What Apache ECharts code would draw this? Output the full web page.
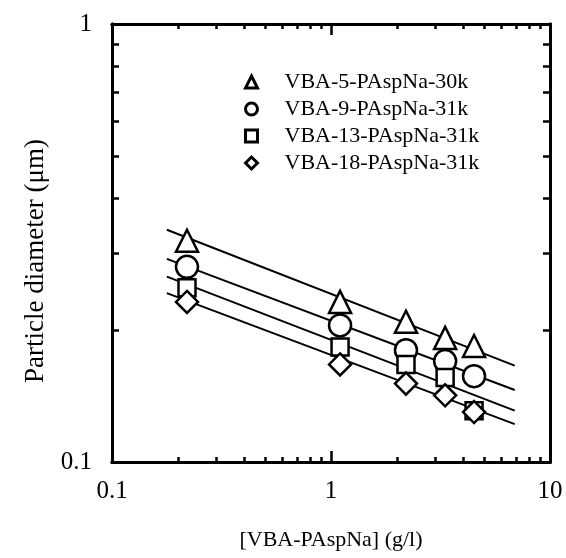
<!DOCTYPE html>
<html>
<head>
<meta charset="utf-8">
<script src="https://cdn.jsdelivr.net/npm/echarts@6/dist/echarts.min.js"></script>
<style>
    html, body {margin: 0; padding: 0; background: #fff;}
    #chart {width: 566px; height: 558px;}
</style>
</head>
<body>
<div id="chart"></div>
<script>
    // concentration of VBA-PAspNa (g/l)
    const concentrations = [0.22, 1.1, 2.2, 3.32, 4.5];

    const seriesNames = ['VBA-5-PAspNa-30k', 'VBA-9-PAspNa-31k', 'VBA-13-PAspNa-31k', 'VBA-18-PAspNa-31k'];
    const seriesSymbols = ['triangle', 'circle', 'rect', 'diamond'];

    // particle diameter (um)
    const vba5 = [0.32, 0.232, 0.209, 0.192, 0.184];
    const vba9 = [0.279, 0.205, 0.180, 0.170, 0.157];
    const vba13 = [0.250, 0.183, 0.167, 0.156, 0.131];
    const vba18 = [0.232, 0.167, 0.151, 0.142, 0.130];

    // fitted lines, end points [x, y]
    const fitX = [0.178, 6.9];
    const fit5 = [0.339, 0.166];
    const fit9 = [0.291, 0.146];
    const fit13 = [0.265, 0.131];
    const fit18 = [0.243, 0.122];

    const xMinorTicks = [0.1, 0.2, 0.3, 0.4, 0.5, 0.6, 0.7, 0.8, 0.9, 1, 2, 3, 4, 5, 6, 7, 8, 9, 10];
    const xMajorTicks = [0.1, 1, 10];
    const yMinorTicks = [0.1, 0.2, 0.3, 0.4, 0.5, 0.6, 0.7, 0.8, 0.9, 1];
    const yMajorTicks = [0.1, 1];

    const allY = [vba5, vba9, vba13, vba18];
    const allFits = [fit5, fit9, fit13, fit18];

    const font = 'Liberation Serif';
    const black = '#000';

    const chart = echarts.init(document.getElementById('chart'), null, {renderer: 'canvas'});

    function makeAxis(kind, position, ticks, len, showLabel, labelTicks, name) {
        const ax = {
            type: 'log',
            logBase: 10,
            position: position,
            min: 0.1,
            max: kind === 'x' ? 10 : 1,
            axisLine: {show: true, onZero: false, lineStyle: {color: black, width: 3}},
            axisTick: {show: true, inside: true, length: len, customValues: ticks, lineStyle: {color: black, width: 2.5}},
            minorTick: {show: false},
            splitLine: {show: false},
            axisLabel: {show: false}
        };
        if (showLabel) {
            ax.axisLabel = {
                show: true,
                customValues: labelTicks,
                color: black,
                fontFamily: font,
                fontSize: 25,
                margin: kind === 'x' ? 17 : 20,
                formatter: v => String(+v.toPrecision(3))
            };
        }
        if (name) {
            ax.name = name;
            ax.nameLocation = 'middle';
            ax.nameGap = kind === 'x' ? 67 : 58;
            ax.nameTextStyle = {
                color: black,
                fontFamily: font,
                fontSize: kind === 'x' ? 22 : 27,
                padding: kind === 'x' ? 0 : [0, 36, 0, 0]
            };
        }
        return ax;
    }

    const scatterSeries = seriesNames.map((name, i) => ({
        name: name,
        type: 'scatter',
        symbol: seriesSymbols[i],
        symbolSize: seriesSymbols[i] === 'rect' ? 17 : 22,
        data: concentrations.map((x, j) => [x, allY[i][j]]),
        itemStyle: {color: '#fff', borderColor: black, borderWidth: 2.5, opacity: 1},
        z: 5 + i
    }));

    const lineSeries = allFits.map((fit, i) => ({
        name: 'fit' + i,
        type: 'line',
        symbol: 'none',
        data: fitX.map((x, j) => [x, fit[j]]),
        lineStyle: {color: black, width: 2},
        z: 2,
        silent: true
    }));

    chart.setOption({
        animation: false,
        backgroundColor: '#fff',
        grid: {left: 112, right: 16, top: 24, bottom: 96, containLabel: false},
        legend: {
            data: seriesNames.map((n, i) => ({
                name: n,
                icon: seriesSymbols[i],
                itemStyle: {color: '#fff', borderColor: black, borderWidth: 3}
            })),
            orient: 'vertical',
            left: 239,
            top: 66,
            itemWidth: 12,
            itemHeight: 12,
            itemGap: 5,
            textStyle: {color: black, fontFamily: font, fontSize: 22, padding: [0, 0, 0, 22]}
        },
        xAxis: [
            makeAxis('x', 'bottom', xMinorTicks, 5, true, xMajorTicks, '[VBA-PAspNa] (g/l)'),
            makeAxis('x', 'bottom', xMajorTicks, 11, false),
            makeAxis('x', 'top', xMinorTicks, 5, false),
            makeAxis('x', 'top', xMajorTicks, 11, false)
        ],
        yAxis: [
            makeAxis('y', 'left', yMinorTicks, 7, true, yMajorTicks, 'Particle diameter (\u03bcm)'),
            makeAxis('y', 'left', yMajorTicks, 11, false),
            makeAxis('y', 'right', yMinorTicks, 7, false),
            makeAxis('y', 'right', yMajorTicks, 11, false)
        ],
        series: lineSeries.concat(scatterSeries)
    });
</script>
</body>
</html>
